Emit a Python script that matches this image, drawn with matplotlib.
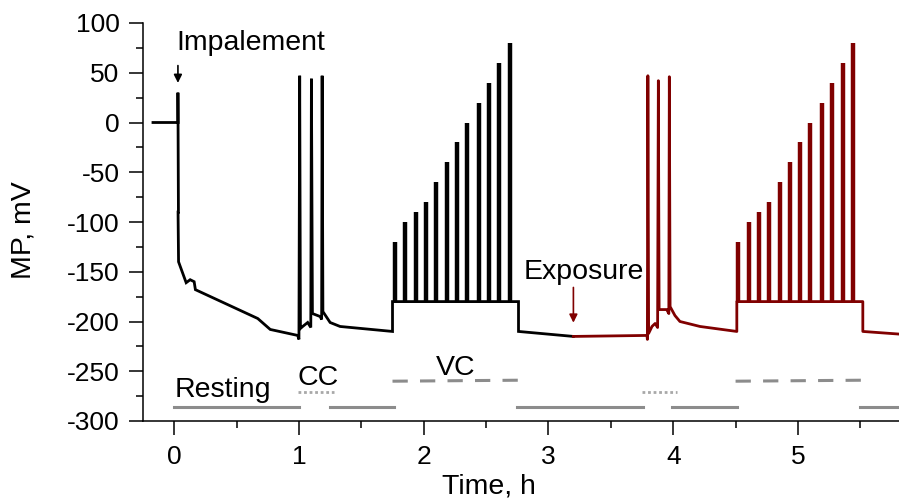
import numpy as np
import matplotlib.pyplot as plt

plt.rcParams['font.family'] = ['Liberation Sans', 'DejaVu Sans']
plt.rcParams['axes.unicode_minus'] = False

# control recording (black), time in h, MP in mV
ctrl_t = [-0.17, 0.03, 0.03, 0.034, 0.031, 0.035, 0.096, 0.128, 0.16, 0.17, 0.67, 0.77, 0.99,
          1.0, 1.006, 1.012, 1.03, 1.07, 1.095, 1.10, 1.108, 1.17, 1.182, 1.186, 1.192,
          1.25, 1.33, 1.75, 1.75, 2.76, 2.76, 3.2]
ctrl_mp = [0, 0, 30, -90, -90, -140, -161, -158, -160, -168, -197, -208, -214,
           -218, 47, -207, -205, -201, -206, 44, -192, -195, -198, 47, -190,
           -201, -205, -210, -180, -180, -210, -215]

# after exposure (dark red)
exp_t = [3.2, 3.79, 3.793, 3.797, 3.803, 3.83, 3.855, 3.875, 3.881, 3.887, 3.948, 3.965,
         3.969, 3.975, 4.014, 4.054, 4.215, 4.51, 4.51, 5.52, 5.52, 5.85]
exp_mp = [-215, -214, -218, 47, -212, -205, -202, -206, 42, -188, -188, -192,
          46, -185, -194, -200, -205, -210, -180, -180, -210, -213]

# VC pulses: times and peak potentials, holding level
vc_peaks = [-120, -100, -90, -80, -60, -40, -20, 0, 20, 40, 60, 80]
vc_t_ctrl = [1.77, 1.85, 1.94, 2.02, 2.10, 2.19, 2.27, 2.35, 2.44, 2.52, 2.60, 2.69]
vc_t_exp = [4.52, 4.61, 4.69, 4.77, 4.86, 4.94, 5.02, 5.10, 5.19, 5.27, 5.36, 5.44]
vc_hold = -180

# protocol bars (start, end) in h
rest_bars = [(0, 1.0), (1.25, 1.76), (2.75, 3.76), (3.99, 4.51), (5.5, 6.0)]
cc_bars = [(0.99, 1.28), (3.75, 4.03)]
vc_bars = [(1.75, 2.77), (4.5, 5.52)]

red = '#800000'
fs = 20.5
tfs = 19

fig = plt.figure(figsize=(8.99, 5.01), dpi=100)
ax = fig.add_axes([143 / 899, 80 / 501, 756 / 899, 398 / 501])

ax.plot(ctrl_t, ctrl_mp, color='k', lw=2, solid_joinstyle='miter')
ax.plot(exp_t, exp_mp, color=red, lw=2)
ax.vlines(vc_t_ctrl, vc_hold, vc_peaks, color='k', lw=3.2)
ax.vlines(vc_t_exp, vc_hold, vc_peaks, color=red, lw=3.2)

for a, b in rest_bars:
    ax.plot([a, b], [-286, -286], color='#8c8c8c', lw=2.2)
for a, b in cc_bars:
    ax.plot([a, b], [-271, -271], color='#a8a8a8', lw=2, dashes=(1, 1))
for a, b in vc_bars:
    ax.plot([a, b], [-260, -259], color='#8c8c8c', lw=2.2, dashes=(5, 4))

ax.text(0.0, -269, 'Resting', fontsize=fs, va='center')
ax.text(0.985, -257, 'CC', fontsize=fs, va='center')
ax.text(2.1, -247, 'VC', fontsize=fs, va='center')
ax.text(0.02, 80, 'Impalement', fontsize=fs, va='center')
ax.text(3.285, -150, 'Exposure', fontsize=fs, va='center', ha='center')
ax.annotate('', xy=(0.03, 37), xytext=(0.03, 60),
            arrowprops=dict(arrowstyle='-|>', color='k', lw=1.2, mutation_scale=12))
ax.annotate('', xy=(3.2, -204), xytext=(3.2, -163),
            arrowprops=dict(arrowstyle='-|>', color=red, lw=1.2, mutation_scale=12))

ax.set_xlim(-0.25, 5.81)
ax.set_ylim(-300, 100)
ax.set_xticks(range(6))
ax.set_xticks(np.arange(0.5, 6, 1), minor=True)
ax.set_yticks(range(-300, 101, 50))
ax.set_yticks(range(-275, 100, 50), minor=True)
ax.tick_params(which='major', length=10, width=1.1, labelsize=tfs, pad=7)
ax.tick_params(which='minor', length=5, width=1.1)
for s in ['top', 'right']:
    ax.spines[s].set_visible(False)
for s in ['left', 'bottom']:
    ax.spines[s].set_linewidth(1.1)

ax.set_xlabel('Time, h', fontsize=fs)
ax.set_ylabel('MP, mV', fontsize=fs)
ax.xaxis.set_label_coords(0.458, -0.131)
ax.yaxis.set_label_coords(-0.141, 0.48)

fig.savefig('out.png', dpi=100)
